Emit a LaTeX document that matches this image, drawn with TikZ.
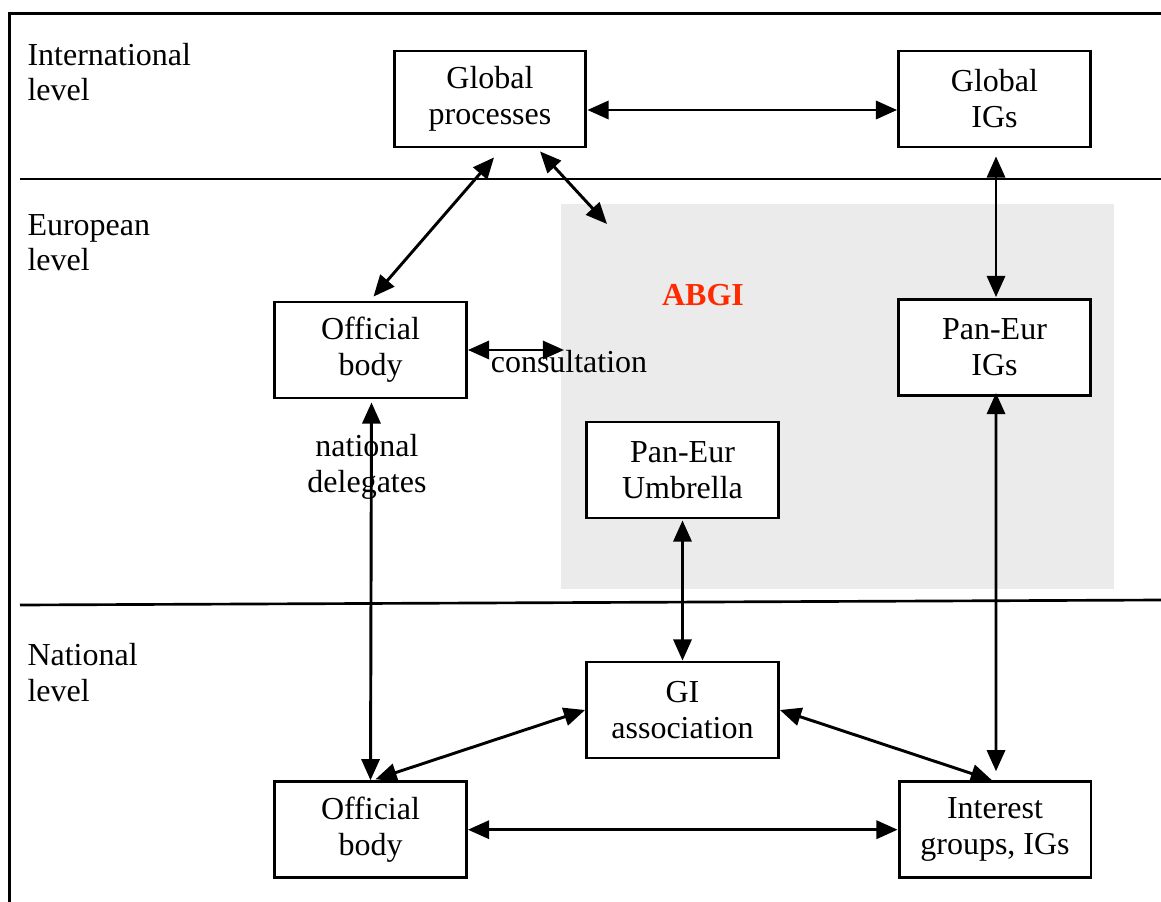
\documentclass[tikz,border=0pt]{standalone}
\usepackage{fontspec}
\setmainfont{Liberation Serif}
\usetikzlibrary{calc,arrows.meta}
\definecolor{abgigray}{HTML}{EBEBEB}
\definecolor{abgired}{HTML}{FF2A00}

\begin{document}
\begin{tikzpicture}[x=0.01318cm, y=-0.01318cm,
        font=\fontsize{12}{13.5}\selectfont,
        >={Triangle[length=0.28cm,width=0.24cm]},
        box/.style={draw, line width=1.1pt, fill=white, align=center, inner sep=0pt,
            minimum width=2.53cm, minimum height=1.265cm},
        lbl/.style={align=left, anchor=base west, inner sep=0pt},
        link/.style={<->, line width=1.1pt}]
            \useasboundingbox (0,0) rectangle (1161,902);
            \fill[abgigray] (561,204) rectangle (1114,588.5);
            \draw[line width=0.9pt] (9.5,902) -- (9.5,13.5) -- (1161,13.5);
            \draw[line width=1pt] (20,179) -- (1161,179);
            \draw[line width=1pt] (20,605) -- (1161,600);
            \node[lbl] (intl) at (27,101) {International\\level};
            \node[lbl] (eur) at (27,271) {European\\level};
            \node[lbl] (nat) at (27,701) {National\\level};
            \node[box] (gp) at (490,99) {Global\\processes};
            \node[box] (gig) at (994.5,99) {Global\\IGs};
            \node[box] (obe) at (370.5,350) {Official\\body};
            \node[box] (peig) at (994.5,347.5) {Pan-Eur\\IGs};
            \node[box] (peu) at (682.5,470) {Pan-Eur\\Umbrella};
            \node[box] (gia) at (682.5,710) {GI\\association};
            \node[box] (obn) at (370.5,829.7) {Official\\body};
            \node[box] (ig) at (995,829.7) {Interest\\groups, IGs};
            \node[anchor=base, inner sep=0pt, text=abgired, font=\fontsize{12}{13.5}\selectfont\bfseries] (abgi) at (703,305) {ABGI};
            \node[anchor=base, inner sep=0pt] (cons) at (569,372) {consultation};
            \node[align=center, anchor=base, inner sep=0pt] (deleg) at (367,492) {national\\delegates};
            \coordinate (abgiin) at (607,224);
            \coordinate (consend) at (564,350);
            \draw[link] (gp.east |- 0,110) -- (gig.west |- 0,110);
            \draw[link] ($(gp.south)+(4,9)$) -- ($(obe.north)+(3,-4)$);
            \draw[link] ($(gp.south)+(50,3)$) -- (abgiin);
            \draw[link] ($(gig.south)+(1.5,8)$) -- ($(peig.north)+(1.5,-1)$);
            \draw[link] (obe.east) -- (consend);
            \draw[link] ($(obe.south)+(1,3)$) -- (obn.north);
            \draw[link] ($(peu.south)+(0,1)$) -- (gia.north);
            \draw[link] ($(peig.south)+(1.5,-4)$) -- ($(ig.north)+(1,-9)$);
            \draw[link] ($(obn.north)+(5,-1)$) -- (gia.west);
            \draw[link] (gia.east) -- ($(ig.north)+(-3,0)$);
            \draw[link] (obn.east) -- (ig.west);
        \end{tikzpicture}
\end{document}
